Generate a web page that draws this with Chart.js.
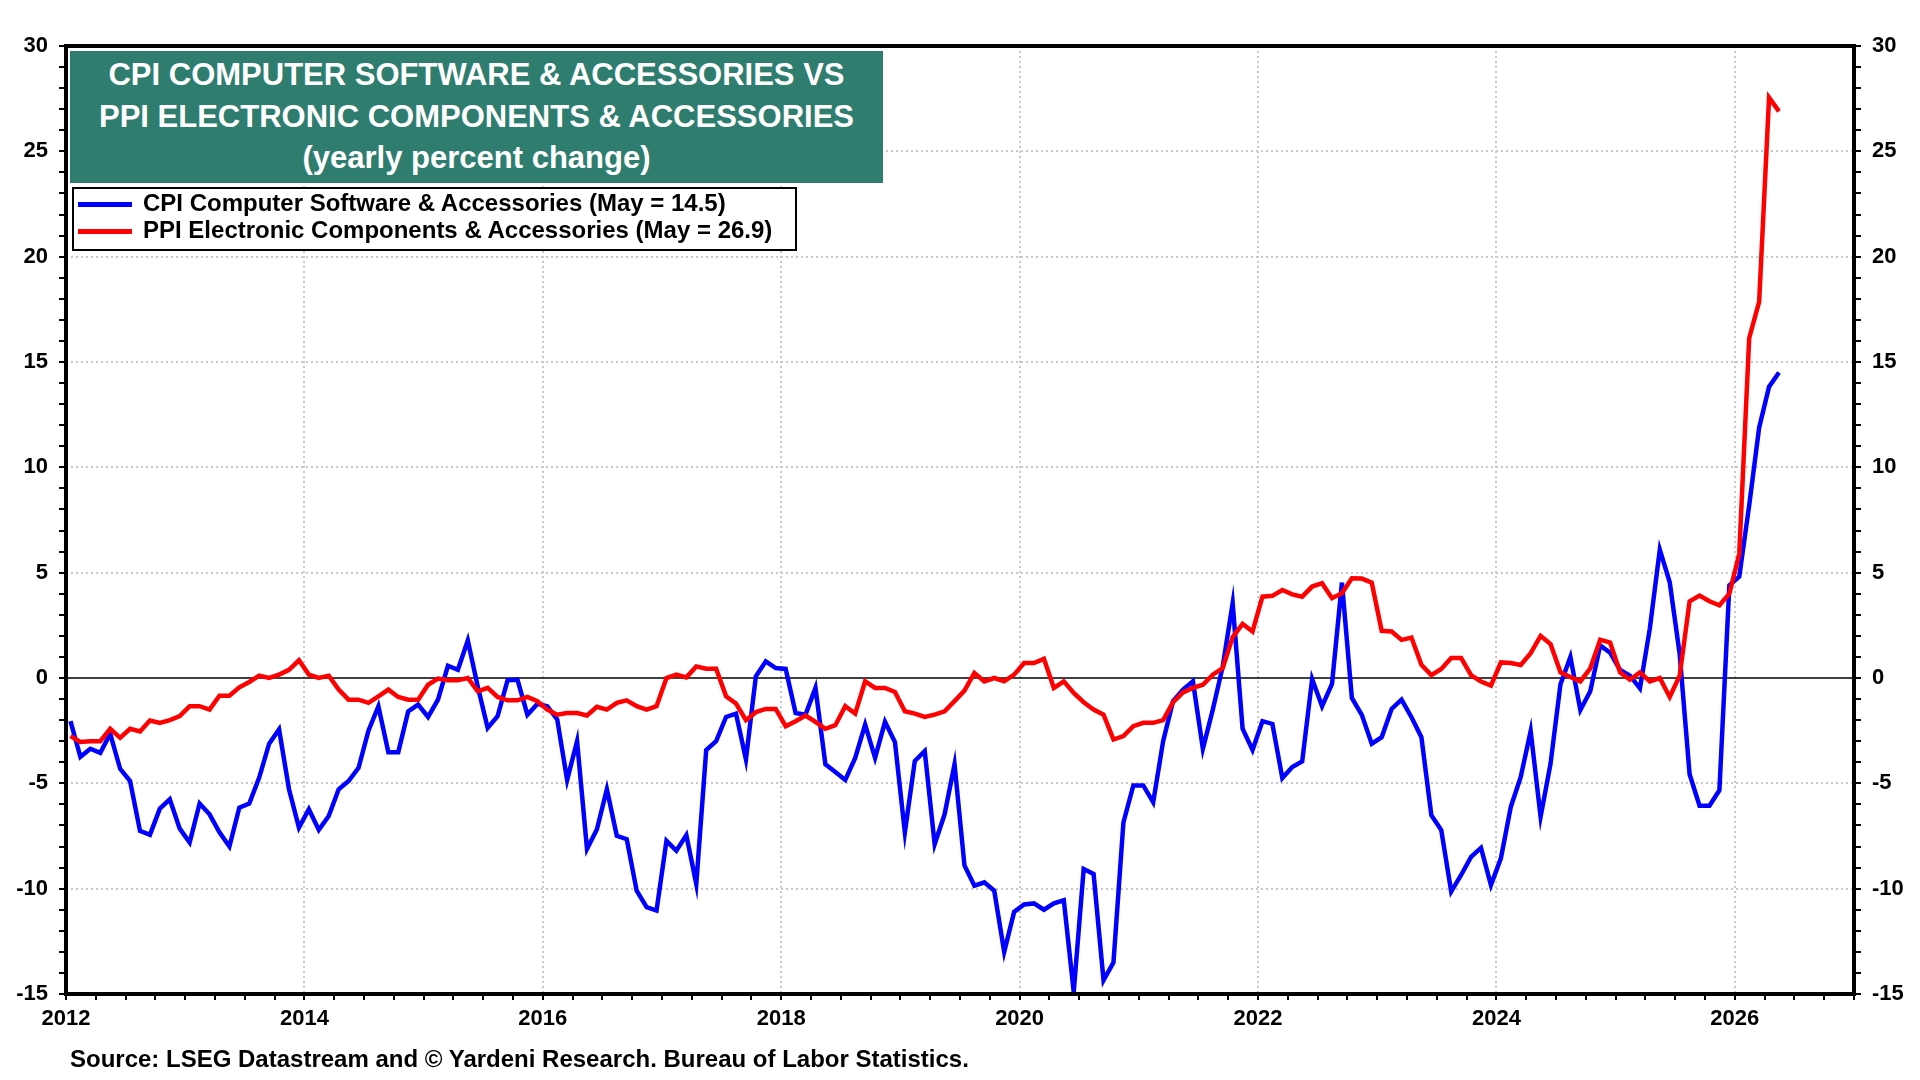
<!DOCTYPE html>
<html>
<head>
<meta charset="utf-8">
<script src="https://cdn.jsdelivr.net/npm/chart.js@4.4.1/dist/chart.umd.min.js"></script>
<style>
  html, body { margin: 0; padding: 0; background: #fff; }
  #wrap { position: relative; width: 1920px; height: 1080px; font-family: "Liberation Sans", Arial, sans-serif; font-weight: bold; }
  #chart { position: absolute; left: 0; top: 0; }
  .title { position: absolute; left: 70px; top: 51px; width: 813px; height: 132px; background: #2e7d6f; color: #fff;
           font-size: 31px; line-height: 41.5px; text-align: center; padding-top: 3px; box-sizing: border-box; white-space: nowrap; }
  .legend { position: absolute; left: 72px; top: 187px; width: 725px; height: 64px; border: 2px solid #000; background: #fff;
            box-sizing: border-box; font-size: 24px; }
  .legend .row { position: absolute; left: 4px; height: 27px; line-height: 27px; white-space: nowrap; }
  .legend .swatch { display: inline-block; width: 54px; height: 5px; vertical-align: middle; margin-right: 11px; }
  .source { position: absolute; left: 70px; top: 1046px; font-size: 24px; line-height: 26px; color: #000; white-space: nowrap; }
</style>
</head>
<body>
<div id="wrap">
  <canvas id="chart" width="1920" height="1080"></canvas>
  <div class="title">CPI COMPUTER SOFTWARE &amp; ACCESSORIES VS<br>PPI ELECTRONIC COMPONENTS &amp; ACCESSORIES<br>(yearly percent change)</div>
  <div class="legend">
    <div class="row" style="top:0px"><span class="swatch" style="background:#0000ff"></span>CPI Computer Software &amp; Accessories (May = 14.5)</div>
    <div class="row" style="top:27px"><span class="swatch" style="background:#ff0000"></span>PPI Electronic Components &amp; Accessories (May = 26.9)</div>
  </div>
  <div class="source">Source: LSEG Datastream and © Yardeni Research. Bureau of Labor Statistics.</div>
</div>
<script>
// monthly data, Jan 2012 .. May 2026
var startYear = 2012;
var monthCount = 173;

// CPI computer software & accessories, y/y %
var cpiSoftware = [
  -2.05, -3.74, -3.36, -3.55, -2.65, -4.31, -4.89, -7.26, -7.44, -6.2,
  -5.76, -7.15, -7.81, -5.96, -6.47, -7.33, -8.0, -6.15, -5.96, -4.73,
  -3.12, -2.44, -5.28, -7.1, -6.23, -7.21, -6.55, -5.28, -4.89, -4.26,
  -2.5, -1.34, -3.52, -3.52, -1.58, -1.26, -1.85, -1.03, 0.58, 0.39,
  1.78, -0.4, -2.37, -1.81, -0.11, -0.08, -1.74, -1.23, -1.34, -1.97,
  -4.84, -3.0, -8.12, -7.18, -5.28, -7.49, -7.65, -10.1, -10.88, -11.04,
  -7.73, -8.2, -7.46, -9.78, -3.42, -3.0, -1.85, -1.69, -3.86, 0.08,
  0.79, 0.47, 0.43, -1.66, -1.74, -0.47, -4.1, -4.46, -4.84, -3.79,
  -2.21, -3.79, -2.08, -3.04, -7.33, -3.94, -3.47, -7.89, -6.47, -4.1,
  -8.9, -9.86, -9.7, -10.1, -13.0, -11.1, -10.75, -10.7, -11.0, -10.7,
  -10.55, -14.9, -9.07, -9.3, -14.35, -13.5, -6.86, -5.1, -5.1, -5.9,
  -3.0, -1.1, -0.55, -0.16, -3.36, -1.5, 0.55, 3.55, -2.41, -3.42,
  -2.05, -2.18, -4.75, -4.23, -3.96, -0.05, -1.34, -0.28, 4.53, -0.95,
  -1.75, -3.12, -2.81, -1.47, -1.03, -1.86, -2.81, -6.51, -7.22, -10.14,
  -9.35, -8.49, -8.06, -9.83, -8.56, -6.12, -4.7, -2.52, -6.59, -4.07,
  -0.3, 1.0, -1.52, -0.63, 1.55, 1.2, 0.38, 0.11, -0.49, 2.36,
  6.09, 4.54, 1.14, -4.57, -6.06, -6.06, -5.33, 4.4, 4.81, 8.2,
  11.88, 13.83, 14.5
];

// PPI electronic components & accessories, y/y %
var ppiElectronic = [
  -2.76, -3.04, -3.0, -3.0, -2.41, -2.84, -2.41, -2.54, -2.02, -2.13,
  -2.0, -1.81, -1.34, -1.34, -1.5, -0.84, -0.84, -0.44, -0.19, 0.11,
  0.0, 0.16, 0.39, 0.84, 0.16, 0.0, 0.11, -0.55, -1.03, -1.03,
  -1.18, -0.87, -0.55, -0.9, -1.03, -1.03, -0.32, -0.03, -0.11, -0.11,
  0.0, -0.63, -0.47, -0.9, -1.06, -1.06, -0.9, -1.1, -1.5, -1.74,
  -1.66, -1.66, -1.78, -1.37, -1.5, -1.18, -1.06, -1.34, -1.5, -1.34,
  0.0, 0.16, 0.03, 0.55, 0.44, 0.44, -0.87, -1.21, -2.0, -1.62,
  -1.47, -1.47, -2.29, -2.05, -1.78, -2.08, -2.41, -2.24, -1.34, -1.69,
  -0.16, -0.47, -0.47, -0.66, -1.58, -1.69, -1.85, -1.74, -1.58, -1.1,
  -0.6, 0.24, -0.16, 0.0, -0.16, 0.16, 0.71, 0.71, 0.91, -0.47,
  -0.16, -0.71, -1.15, -1.5, -1.74, -2.92, -2.76, -2.29, -2.13, -2.13,
  -2.0, -1.15, -0.68, -0.47, -0.32, 0.16, 0.47, 1.94, 2.57, 2.21,
  3.86, 3.9, 4.18, 3.97, 3.86, 4.34, 4.5, 3.79, 4.02, 4.73,
  4.72, 4.53, 2.24, 2.21, 1.81, 1.92, 0.63, 0.14, 0.43, 0.95,
  0.95, 0.14, -0.17, -0.36, 0.74, 0.71, 0.62, 1.18, 2.0, 1.61,
  0.27, 0.05, -0.16, 0.46, 1.82, 1.68, 0.27, -0.08, 0.27, -0.16,
  0.0, -0.9, 0.11, 3.64, 3.91, 3.64, 3.45, 4.0, 5.9, 16.14,
  17.85, 27.55, 26.9
];

// axis ticks
var xLabelYears = [2012, 2014, 2016, 2018, 2020, 2022, 2024, 2026];
var yLabelValues = [-15, -10, -5, 0, 5, 10, 15, 20, 25, 30];

// x position of each month (plotted mid-month)
var monthX = [];
for (var i = 0; i < monthCount; i++) {
  monthX.push(startYear + (i + 0.45) / 12);
}

function toPoints(vals) {
  return vals.map(function (v, i) { return { x: monthX[i], y: v }; });
}

var quarterTicks = [];
for (var q = 0; q <= 60; q++) quarterTicks.push(2012 + q * 0.25);

var tickFont = { family: '"Liberation Sans", Arial, sans-serif', size: 22, weight: 'bold' };
var gridGray = '#c8c8c8';

// frame round the plot + zero line
var framePlugin = {
  id: 'frame',
  beforeDatasetsDraw: function (chart) {
    var a = chart.chartArea, c = chart.ctx;
    var y0 = chart.scales.y.getPixelForValue(0);
    c.save();
    c.strokeStyle = '#000';
    c.lineWidth = 1.5;
    c.beginPath();
    c.moveTo(a.left, y0);
    c.lineTo(a.right, y0);
    c.stroke();
    c.restore();
  },
  afterDatasetsDraw: function (chart) {
    var a = chart.chartArea, c = chart.ctx;
    c.save();
    c.strokeStyle = '#000';
    c.lineWidth = 4;
    c.strokeRect(a.left, a.top, a.right - a.left, a.bottom - a.top);
    c.restore();
  }
};

function yAxis(pos) {
  return {
    type: 'linear',
    position: pos,
    min: -15,
    max: 30,
    afterFit: function (s) { s.width = 66; },
    afterBuildTicks: function (s) {
      var t = [];
      for (var v = -15; v <= 30; v++) t.push({ value: v });
      s.ticks = t;
    },
    ticks: {
      autoSkip: false,
      padding: 11,
      color: '#000',
      font: tickFont,
      callback: function (v) { return yLabelValues.indexOf(v) >= 0 ? String(v) : ''; }
    },
    grid: {
      drawOnChartArea: pos === 'left',
      color: function (ctx) {
        var v = ctx.tick ? ctx.tick.value : null;
        return (v !== null && v % 5 === 0 && v !== 0 && v > -15 && v < 30) ? gridGray : 'rgba(0,0,0,0)';
      },
      lineWidth: 2,
      tickColor: '#000',
      tickLength: 7,
      tickWidth: 2
    },
    border: { display: false, dash: [2, 3] }
  };
}

var ctx = document.getElementById('chart').getContext('2d');
var chart = new Chart(ctx, {
  type: 'line',
  data: {
    datasets: [{
      label: 'PPI Electronic Components & Accessories',
      data: toPoints(ppiElectronic),
      borderColor: '#ff0000',
      borderWidth: 4.5,
      pointRadius: 0,
      tension: 0,
      order: 0
    }, {
      label: 'CPI Computer Software & Accessories',
      data: toPoints(cpiSoftware),
      borderColor: '#0000ff',
      borderWidth: 4.5,
      pointRadius: 0,
      tension: 0,
      order: 1
    }]
  },
  plugins: [framePlugin],
  options: {
    responsive: false,
    animation: false,
    devicePixelRatio: 1,
    layout: { padding: { top: 46, left: 0, right: 0, bottom: 0 } },
    plugins: { legend: { display: false }, tooltip: { enabled: false } },
    scales: {
      x: {
        type: 'linear',
        min: 2012,
        max: 2027,
        afterFit: function (s) { s.height = 86; },
        afterBuildTicks: function (s) {
          s.ticks = quarterTicks.map(function (v) { return { value: v }; });
        },
        ticks: {
          autoSkip: false,
          maxRotation: 0,
          padding: 6,
          color: '#000',
          font: tickFont,
          callback: function (v) { return xLabelYears.indexOf(v) >= 0 ? String(v) : ''; }
        },
        grid: {
          color: function (ctx) {
            var v = ctx.tick ? ctx.tick.value : null;
            return (v !== null && xLabelYears.indexOf(v) >= 0 && v > 2012) ? gridGray : 'rgba(0,0,0,0)';
          },
          lineWidth: 2,
          tickColor: '#000',
          tickLength: 6,
          tickWidth: 2
        },
        border: { display: false, dash: [2, 3] }
      },
      y: yAxis('left'),
      y2: yAxis('right')
    }
  }
});
</script>
</body>
</html>
